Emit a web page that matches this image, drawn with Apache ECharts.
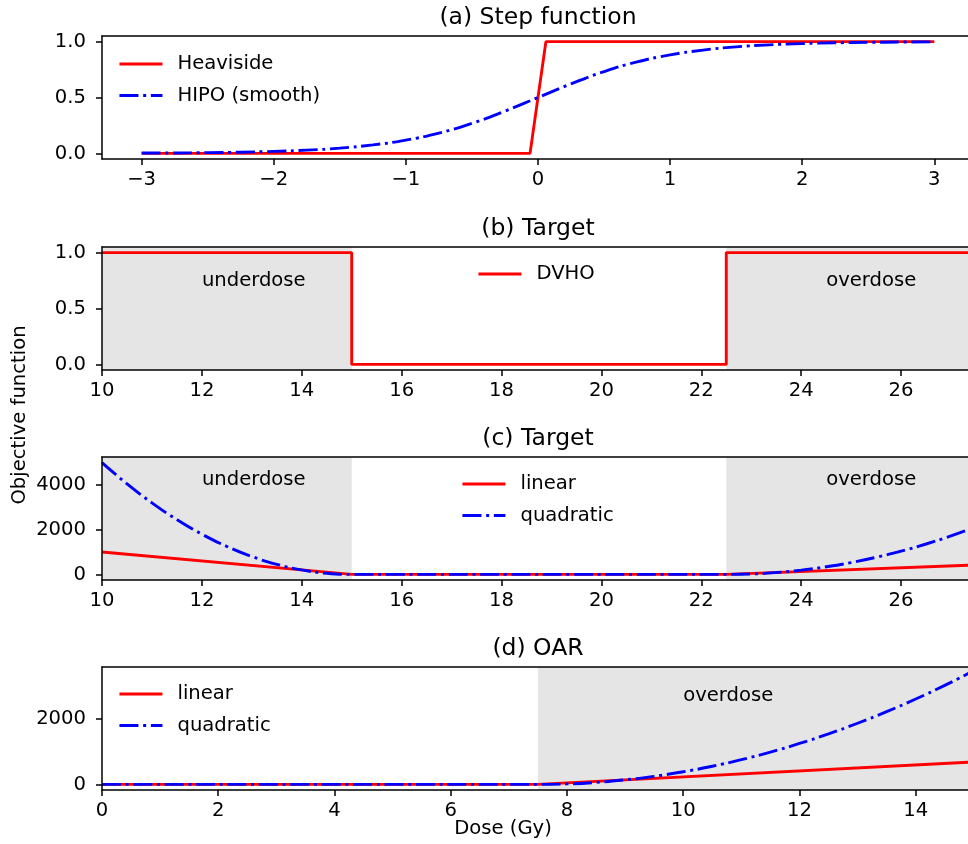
<!DOCTYPE html>
<html>
<head>
<meta charset="utf-8">
<script src="https://cdn.jsdelivr.net/npm/echarts@6/dist/echarts.min.js"></script>
<style>
  html, body { margin: 0; padding: 0; background: #fff; }
  #main { width: 968px; height: 844px; }
</style>
</head>
<body>
<div id="main"></div>
<script>
// (a) step function
const stepX = [-3, -0.06, 0.06, 3]
const heaviside = [0, 0, 1, 1]
const hipoX = [-3, -2.75, -2.5, -2.25, -2, -1.75, -1.5, -1.25, -1, -0.75, -0.5, -0.25, 0,
  0.25, 0.5, 0.75, 1, 1.25, 1.5, 1.75, 2, 2.25, 2.5, 2.75, 3]
const hipo = [0.003, 0.004, 0.007, 0.011, 0.018, 0.029, 0.047, 0.076, 0.119, 0.182, 0.269, 0.378, 0.5,
  0.622, 0.731, 0.818, 0.881, 0.924, 0.953, 0.971, 0.982, 0.989, 0.993, 0.996, 0.998]

// (b) target, DVHO
const dvhoX = [10, 15, 15, 22.5, 22.5, 27.5]
const dvho = [1, 1, 0, 0, 1, 1]

// (c) target, linear / quadratic
const targetLinX = [10, 15, 22.5, 27.5]
const targetLin = [1000, 0, 0, 425]
const targetQuadX = [10, 10.5, 11, 11.5, 12, 12.5, 13, 13.5, 14, 14.5, 15,
  22.5, 23, 23.5, 24, 24.5, 25, 25.5, 26, 26.5, 27, 27.5]
const targetQuad = [5000, 4050, 3200, 2450, 1800, 1250, 800, 450, 200, 50, 0,
  0, 21, 85, 190, 340, 530, 765, 1040, 1360, 1720, 2125]

// (d) OAR, linear / quadratic
const oarLinX = [0, 7.5, 15]
const oarLin = [0, 0, 690]
const oarQuadX = [0, 7.5, 8, 8.5, 9, 9.5, 10, 10.5, 11, 11.5, 12, 12.5, 13, 13.5, 14, 14.5, 15]
const oarQuad = [0, 0, 15, 62, 140, 248, 388, 558, 760, 992, 1256, 1550, 1876, 2232, 2620, 3038, 3488]

// visible x range of each panel (the right edge is cut off in the picture)
const xRangeA = [-3.3, 3.255]
const xRangeBC = [10, 27.34]
const xRangeD = [0, 14.9]

// shaded dose zones
const underdoseB = [10, 15]
const overdoseB = [22.5, 27.34]
const oarZone = [7.5, 14.9]

// zone captions [x, y, text]
const zoneTextB = [[12, 0.7, 'underdose'], [24.5, 0.7, 'overdose']]
const zoneTextC = [[12, 4000, 'underdose'], [24.5, 4000, 'overdose']]
const zoneTextD = [[10, 2560, 'overdose']]

// axis ticks
const xTicksA = [-3, -2, -1, 0, 1, 2, 3]
const xTicksBC = [10, 12, 14, 16, 18, 20, 22, 24, 26]
const xTicksD = [0, 2, 4, 6, 8, 10, 12, 14]
const yTicksAB = [0, 0.5, 1]
const yTicksC = [0, 2000, 4000]
const yTicksD = [0, 2000]

const titles = ['(a) Step function', '(b) Target', '(c) Target', '(d) OAR']

const FONT = 'DejaVu Sans'
const FS = 19.6
const RED = '#ff0000'
const BLUE = '#0000ff'
const SHADE = '#e5e5e5'
const DASHDOT = [19, 4.7, 3, 4.7]
const LW = 2.9
const tops = [36, 247, 457, 667]
const PH = 123

const pairs = (xs, ys) => xs.map((x, i) => [x, ys[i]])
const minus = v => (v < 0 ? '\u2212' + (-v) : String(v))

function xAxisFor(i, range, ticks) {
  return {
    type: 'value', gridIndex: i, min: range[0], max: range[1], z: 5,
    axisLine: { show: true, onZero: false, lineStyle: { color: '#000', width: 1.5 } },
    axisTick: { show: true, length: 6, lineStyle: { color: '#000', width: 1.5 }, customValues: ticks },
    axisLabel: { margin: 11, fontFamily: FONT, fontSize: FS, color: '#000', lineHeight: 20,
      customValues: ticks, formatter: minus },
    splitLine: { show: false }
  }
}
function topAxisFor(i, range) {
  return {
    type: 'value', gridIndex: i, position: 'top', min: range[0], max: range[1], z: 5,
    axisLine: { show: true, onZero: false, lineStyle: { color: '#000', width: 1.5 } },
    axisTick: { show: false }, axisLabel: { show: false }, splitLine: { show: false }
  }
}
function yAxisFor(i, min, max, ticks, digits) {
  return {
    type: 'value', gridIndex: i, min: min, max: max, z: 5,
    axisLine: { show: true, onZero: false, lineStyle: { color: '#000', width: 1.5 } },
    axisTick: { show: true, length: 6, lineStyle: { color: '#000', width: 1.5 }, customValues: ticks },
    axisLabel: { margin: 16, fontFamily: FONT, fontSize: FS, color: '#000',
      customValues: ticks, formatter: v => v.toFixed(digits) },
    splitLine: { show: false }
  }
}
function zones(bands) {
  return {
    silent: true,
    itemStyle: { color: SHADE },
    data: bands.map(b => [{ xAxis: b[0] }, { xAxis: b[1] }])
  }
}
function captions(list) {
  return {
    silent: true,
    symbolSize: 0,
    label: {
      show: true, position: [0, 0], align: 'left', verticalAlign: 'bottom', offset: [0, 5],
      fontFamily: FONT, fontSize: FS, color: '#000', lineHeight: 20,
      formatter: p => p.name
    },
    data: list.map(t => ({ name: t[2], coord: [t[0], t[1]] }))
  }
}
function line(name, i, data, color, dashed, extra) {
  return Object.assign({
    name: name, type: 'line', xAxisIndex: i, yAxisIndex: i, data: data,
    symbol: 'none', showSymbol: false,
    lineStyle: { color: color, width: LW, type: dashed ? DASHDOT : 'solid', cap: 'butt' },
    itemStyle: { color: color }
  }, extra || {})
}
function legendFor(items, left, top) {
  return {
    data: items.map(it => ({
      name: it[0],
      lineStyle: { color: it[1], width: LW, type: it[2] ? DASHDOT : 'solid', cap: 'butt' }
    })),
    orient: 'vertical', left: left, top: top, padding: 0,
    itemWidth: 43, itemHeight: 20, itemGap: 11.5, selectedMode: false,
    itemStyle: { opacity: 0 },
    textStyle: { fontFamily: FONT, fontSize: FS, color: '#000', lineHeight: 20, padding: [0, 0, 0, 10] }
  }
}

const chart = echarts.init(document.getElementById('main'), null, { renderer: 'canvas' })
const option = {
  animation: false,
  backgroundColor: '#fff',
  title: titles.map((t, i) => ({
    text: t, left: 538, top: tops[i] - 30, textAlign: 'center', padding: 0,
    textStyle: { fontFamily: FONT, fontSize: 23.5, fontWeight: 'normal', color: '#000', lineHeight: 24 }
  })),
  grid: tops.map(t => ({
    left: 102, top: t, width: 866, height: PH,
    show: true, borderColor: '#000', borderWidth: 0, backgroundColor: 'transparent'
  })),
  legend: [
    legendFor([['Heaviside', RED, false], ['HIPO (smooth)', BLUE, true]], 118, 54),
    legendFor([['DVHO', RED, false]], 477, 264),
    legendFor([['linear', RED, false], ['quadratic', BLUE, true]], 461, 474),
    legendFor([['linear', RED, false], ['quadratic', BLUE, true]], 118, 684)
  ],
  xAxis: [
    xAxisFor(0, xRangeA, xTicksA),
    xAxisFor(1, xRangeBC, xTicksBC),
    xAxisFor(2, xRangeBC, xTicksBC),
    xAxisFor(3, xRangeD, xTicksD),
    topAxisFor(0, xRangeA),
    topAxisFor(1, xRangeBC),
    topAxisFor(2, xRangeBC),
    topAxisFor(3, xRangeD)
  ],
  yAxis: [
    yAxisFor(0, -0.05, 1.05, yTicksAB, 1),
    yAxisFor(1, -0.05, 1.05, yTicksAB, 1),
    yAxisFor(2, -250, 5250, yTicksC, 0),
    yAxisFor(3, -171.5, 3602.5, yTicksD, 0)
  ],
  series: [
    line('Heaviside', 0, pairs(stepX, heaviside), RED, false),
    line('HIPO (smooth)', 0, pairs(hipoX, hipo), BLUE, true, { smooth: 0.5 }),
    line('DVHO', 1, pairs(dvhoX, dvho), RED, false,
      { markArea: zones([underdoseB, overdoseB]), markPoint: captions(zoneTextB) }),
    line('linear', 2, pairs(targetLinX, targetLin), RED, false,
      { markArea: zones([underdoseB, overdoseB]), markPoint: captions(zoneTextC) }),
    line('quadratic', 2, pairs(targetQuadX, targetQuad), BLUE, true, { smooth: 0.5 }),
    line('linear', 3, pairs(oarLinX, oarLin), RED, false,
      { markArea: zones([oarZone]), markPoint: captions(zoneTextD) }),
    line('quadratic', 3, pairs(oarQuadX, oarQuad), BLUE, true, { smooth: 0.5 })
  ],
  graphic: [
    {
      type: 'text', x: 20, y: 415, rotation: Math.PI / 2,
      style: { text: 'Objective function', font: FS + 'px "' + FONT + '"', fill: '#000',
        align: 'center', verticalAlign: 'middle' }
    },
    {
      type: 'text', x: 503, y: 829,
      style: { text: 'Dose (Gy)', font: FS + 'px "' + FONT + '"', fill: '#000',
        align: 'center', verticalAlign: 'middle' }
    }
  ]
}
chart.setOption(option)
</script>
</body>
</html>
